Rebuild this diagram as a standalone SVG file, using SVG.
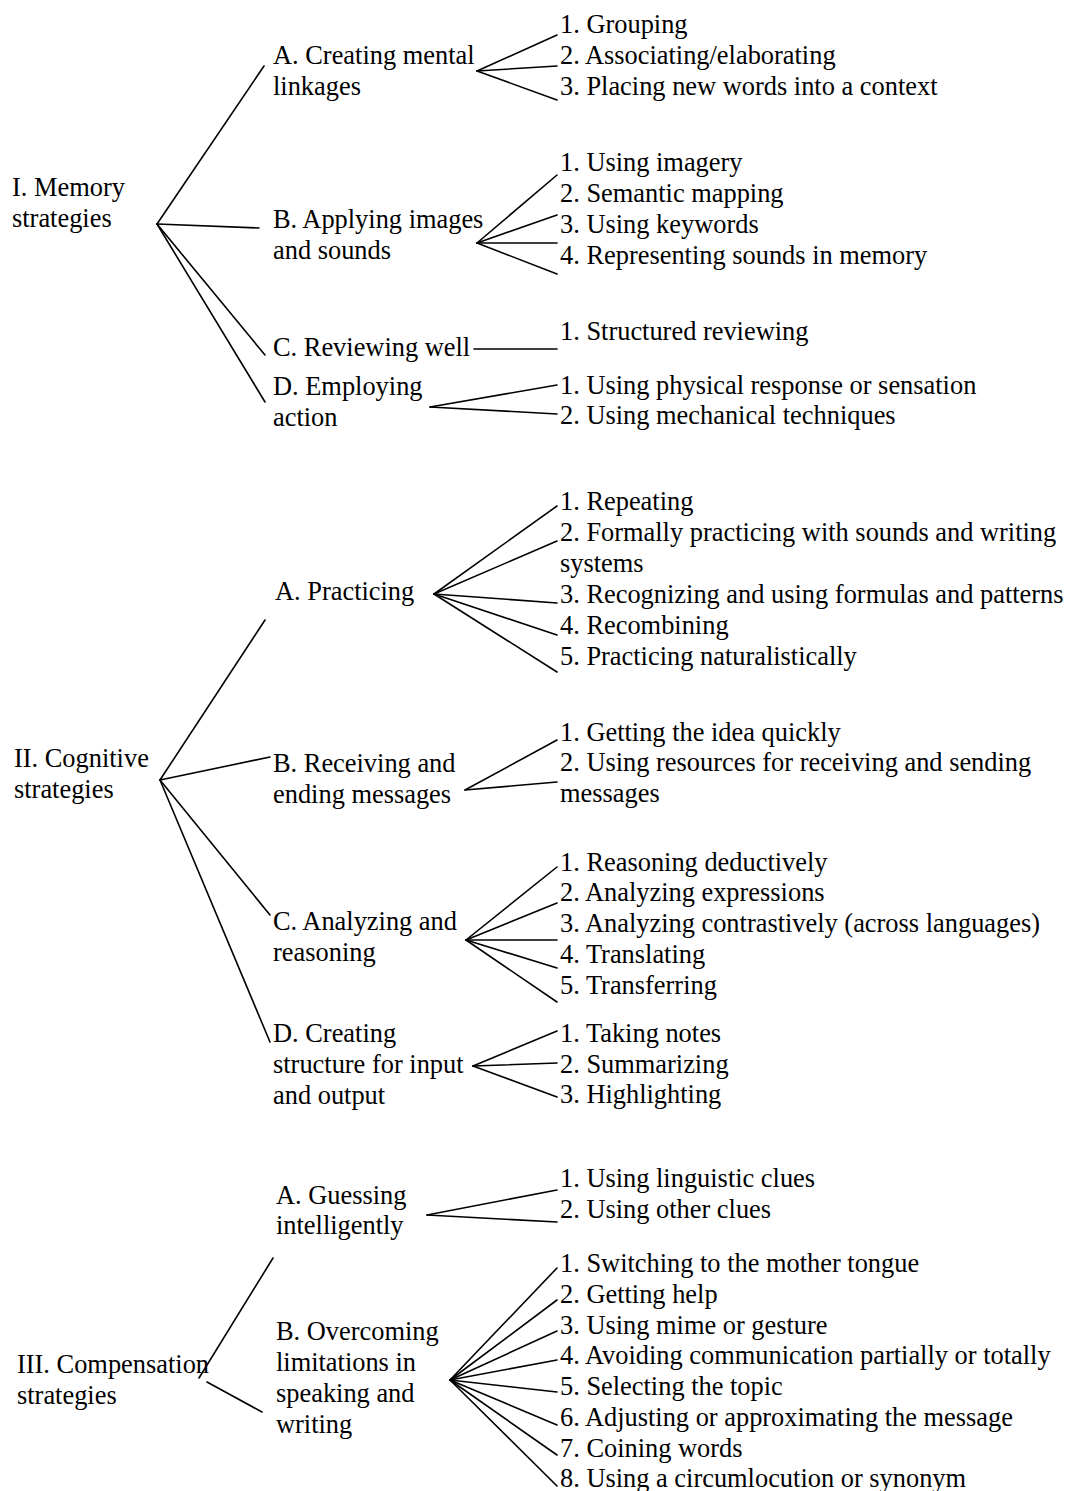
<svg xmlns="http://www.w3.org/2000/svg" width="1069" height="1491" viewBox="0 0 1069 1491">
<style>
text{font-family:"Liberation Serif","Times New Roman",serif;font-size:26.4px;fill:#000}
.c line{stroke:#000;stroke-width:1.6;stroke-linecap:round}
</style>
<rect width="1069" height="1491" fill="#fff"/>
<g class="c" id="connectors">
<line x1="157" y1="224" x2="264" y2="66"/><line x1="157" y1="224" x2="259" y2="228"/><line x1="157" y1="224" x2="265" y2="355"/><line x1="157" y1="224" x2="265" y2="402"/>
<line x1="477" y1="71" x2="557" y2="35"/><line x1="477" y1="71" x2="557" y2="66"/><line x1="477" y1="71" x2="557" y2="100"/>
<line x1="477" y1="243" x2="557" y2="175"/><line x1="477" y1="243" x2="557" y2="215"/><line x1="477" y1="243" x2="557" y2="243"/><line x1="477" y1="243" x2="557" y2="274"/>
<line x1="474" y1="349" x2="557" y2="349"/>
<line x1="430" y1="407" x2="557" y2="385"/><line x1="430" y1="407" x2="557" y2="414"/>
<line x1="160" y1="780" x2="265" y2="620"/><line x1="160" y1="780" x2="270" y2="757"/><line x1="160" y1="780" x2="270" y2="915"/><line x1="160" y1="780" x2="270" y2="1042"/>
<line x1="434" y1="594" x2="557" y2="506"/><line x1="434" y1="594" x2="557" y2="541"/><line x1="434" y1="594" x2="557" y2="603"/><line x1="434" y1="594" x2="557" y2="635"/><line x1="434" y1="594" x2="557" y2="672"/>
<line x1="465" y1="790" x2="557" y2="740"/><line x1="465" y1="790" x2="557" y2="782"/>
<line x1="466" y1="940" x2="557" y2="867"/><line x1="466" y1="940" x2="557" y2="903"/><line x1="466" y1="940" x2="557" y2="940"/><line x1="466" y1="940" x2="557" y2="968"/><line x1="466" y1="940" x2="557" y2="1002"/>
<line x1="473" y1="1066" x2="557" y2="1031"/><line x1="473" y1="1066" x2="557" y2="1063"/><line x1="473" y1="1066" x2="557" y2="1097"/>
<line x1="273" y1="1258" x2="199" y2="1378"/><line x1="207" y1="1382" x2="262" y2="1412"/>
<line x1="427" y1="1215" x2="557" y2="1190"/><line x1="427" y1="1215" x2="557" y2="1222"/>
<line x1="450" y1="1380" x2="557" y2="1268"/><line x1="450" y1="1380" x2="557" y2="1300"/><line x1="450" y1="1380" x2="557" y2="1331"/><line x1="450" y1="1380" x2="557" y2="1360"/><line x1="450" y1="1380" x2="557" y2="1392"/><line x1="450" y1="1380" x2="557" y2="1425"/><line x1="450" y1="1380" x2="557" y2="1455"/><line x1="450" y1="1380" x2="557" y2="1486"/>
</g>
<g id="memory"><text x="12" y="196">I. Memory</text><text x="12" y="227">strategies</text></g>
<g id="memA"><text x="273" y="64">A. Creating mental</text><text x="273" y="95">linkages</text></g>
<g id="memA-leaves"><text x="560" y="33">1. Grouping</text><text x="560" y="64">2. Associating/elaborating</text><text x="560" y="95">3. Placing new words into a context</text></g>
<g id="memB"><text x="273" y="228">B. Applying images</text><text x="273" y="259">and sounds</text></g>
<g id="memB-leaves"><text x="560" y="171">1. Using imagery</text><text x="560" y="202">2. Semantic mapping</text><text x="560" y="233">3. Using keywords</text><text x="560" y="264">4. Representing sounds in memory</text></g>
<g id="memC"><text x="273" y="356">C. Reviewing well</text></g>
<g id="memC-leaves"><text x="560" y="340">1. Structured reviewing</text></g>
<g id="memD"><text x="273" y="395">D. Employing</text><text x="273" y="426">action</text></g>
<g id="memD-leaves"><text x="560" y="394">1. Using physical response or sensation</text><text x="560" y="424">2. Using mechanical techniques</text></g>
<g id="cognitive"><text x="14" y="767">II. Cognitive</text><text x="14" y="798">strategies</text></g>
<g id="cogA"><text x="275" y="600">A. Practicing</text></g>
<g id="cogA-leaves"><text x="560" y="510">1. Repeating</text><text x="560" y="541">2. Formally practicing with sounds and writing</text><text x="560" y="572">systems</text><text x="560" y="603">3. Recognizing and using formulas and patterns</text><text x="560" y="634">4. Recombining</text><text x="560" y="665">5. Practicing naturalistically</text></g>
<g id="cogB"><text x="273" y="772">B. Receiving and</text><text x="273" y="803">ending messages</text></g>
<g id="cogB-leaves"><text x="560" y="741">1. Getting the idea quickly</text><text x="560" y="771">2. Using resources for receiving and sending</text><text x="560" y="802">messages</text></g>
<g id="cogC"><text x="273" y="930">C. Analyzing and</text><text x="273" y="961">reasoning</text></g>
<g id="cogC-leaves"><text x="560" y="871">1. Reasoning deductively</text><text x="560" y="901">2. Analyzing expressions</text><text x="560" y="932">3. Analyzing contrastively (across languages)</text><text x="560" y="963">4. Translating</text><text x="560" y="994">5. Transferring</text></g>
<g id="cogD"><text x="273" y="1042">D. Creating</text><text x="273" y="1073">structure for input</text><text x="273" y="1104">and output</text></g>
<g id="cogD-leaves"><text x="560" y="1042">1. Taking notes</text><text x="560" y="1073">2. Summarizing</text><text x="560" y="1103">3. Highlighting</text></g>
<g id="compensation"><text x="17" y="1373">III. Compensation</text><text x="17" y="1404">strategies</text></g>
<g id="compA"><text x="276" y="1204">A. Guessing</text><text x="276" y="1234">intelligently</text></g>
<g id="compA-leaves"><text x="560" y="1187">1. Using linguistic clues</text><text x="560" y="1218">2. Using other clues</text></g>
<g id="compB"><text x="276" y="1340">B. Overcoming</text><text x="276" y="1371">limitations in</text><text x="276" y="1402">speaking and</text><text x="276" y="1433">writing</text></g>
<g id="compB-leaves"><text x="560" y="1272">1. Switching to the mother tongue</text><text x="560" y="1303">2. Getting help</text><text x="560" y="1334">3. Using mime or gesture</text><text x="560" y="1364">4. Avoiding communication partially or totally</text><text x="560" y="1395">5. Selecting the topic</text><text x="560" y="1426">6. Adjusting or approximating the message</text><text x="560" y="1457">7. Coining words</text><text x="560" y="1487">8. Using a circumlocution or synonym</text></g>
</svg>
